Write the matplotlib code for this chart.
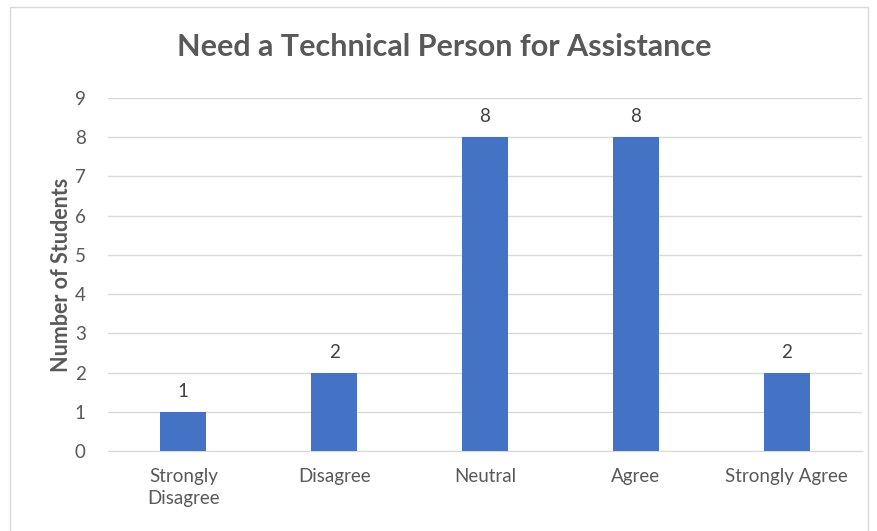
import matplotlib.pyplot as plt
from matplotlib.patches import Rectangle

# Survey responses
categories = ['Strongly\nDisagree', 'Disagree', 'Neutral', 'Agree', 'Strongly Agree']
counts = [1, 2, 8, 8, 2]
y_ticks = list(range(0, 10))

title = 'Need a Technical Person for Assistance'
y_label = 'Number of Students'

bar_color = '#4472C4'
text_color = '#595959'
grid_color = '#D9D9D9'

plt.rcParams['font.family'] = ['Lato', 'DejaVu Sans']

fig = plt.figure(figsize=(8.78, 5.31), dpi=100)
ax = fig.add_axes([108 / 878, 1 - 451 / 531, 754 / 878, 353 / 531])

# Chart frame
fig.patches.append(Rectangle((10 / 878, -0.01), 858 / 878, 1 - 7 / 531 + 0.01,
                             transform=fig.transFigure, fill=False,
                             edgecolor='#D9D9D9', linewidth=1.0))

x = list(range(len(categories)))
ax.bar(x, counts, width=0.305, color=bar_color, zorder=3)

for xi, v in zip(x, counts):
    ax.text(xi, v + 0.3, str(v), ha='center', va='bottom',
            fontsize=13.5, color='#404040')

ax.set_xlim(-0.5, len(categories) - 0.5)
ax.set_ylim(0, 9)
ax.set_yticks(y_ticks)
ax.set_xticks(x)
ax.set_xticklabels(categories, linespacing=1.35)
ax.tick_params(axis='both', length=0, colors=text_color, labelsize=13.5)
ax.tick_params(axis='y', pad=16)
ax.tick_params(axis='x', pad=12)

ax.grid(axis='y', color=grid_color, linewidth=1.0, zorder=0)
for s in ['top', 'right', 'left']:
    ax.spines[s].set_visible(False)
ax.spines['bottom'].set_color(grid_color)

ax.set_ylabel(y_label, fontsize=15.5, fontweight='bold', color=text_color, labelpad=2)
fig.text(0.5 + 10 / 878 / 2, 1 - 47 / 531, title, ha='center', va='center',
         fontsize=22, fontweight='bold', color=text_color)

fig.savefig('out.png', dpi=100)
